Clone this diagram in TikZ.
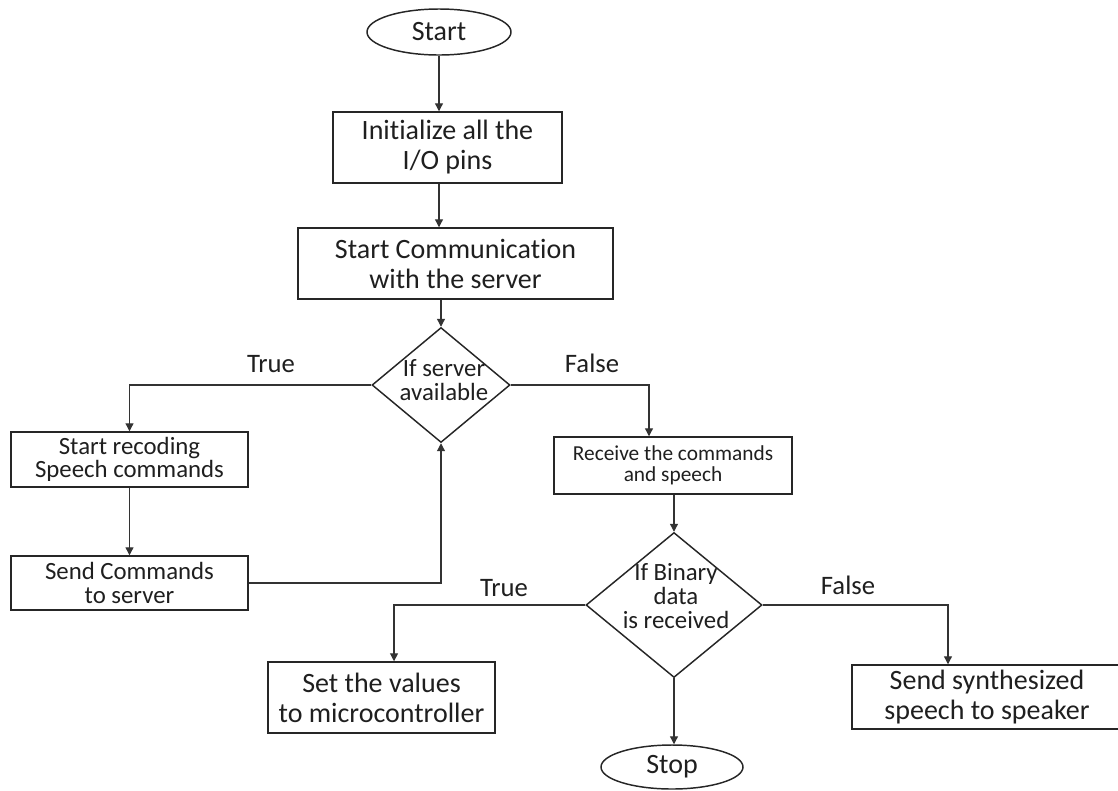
\documentclass[tikz,border=0pt]{standalone}
\usepackage{fontspec}
\setmainfont{Carlito}[Ligatures=NoCommon]
\usetikzlibrary{shapes.geometric,arrows.meta}
\begin{document}
\begin{tikzpicture}[x=0.75pt,y=-0.75pt,
  every node/.style={text=black!88},
  fbig/.style={font=\fontsize{21}{22.5}\selectfont},
  fmid/.style={font=\fontsize{18.6}{17.8}\selectfont},
  fsmall/.style={font=\fontsize{16}{15.8}\selectfont},
  flab/.style={font=\fontsize{20}{22}\selectfont},
  box/.style={draw=black!85, line width=1.1pt, rectangle, inner sep=0pt, align=center},
  term/.style={draw=black!85, line width=1.1pt, ellipse, inner sep=0pt, align=center, fbig},
  dia/.style={draw=black!85, line width=1.1pt, diamond, inner sep=0pt},
  arr/.style={draw=black!80, line width=0.9pt, -{Triangle[width=6pt,length=6pt]}}
]
\useasboundingbox (0,0) rectangle (1118,790);
\clip (0,0) rectangle (1118,790);

\node[term, minimum width=108pt, minimum height=34.5pt] (start) at (439,32) {Start};
\node[box, fbig, minimum width=171.75pt, minimum height=53.25pt] (init) at (447.5,147.5) {Initialize all the\\I/O pins};
\node[box, fbig, minimum width=236.25pt, minimum height=53.25pt] (comm) at (455.5,263.5) {Start Communication\\with the server};
\node[dia, minimum width=103.5pt, minimum height=86.25pt] (d1) at (441,385) {};
\node[fmid, align=center, inner sep=0pt] (d1t) at (444,380) {If server\\available};
\node[box, fmid, minimum width=177.75pt, minimum height=41.25pt] (rec) at (129.5,459.5) {Start recoding\\Speech commands};
\node[box, fmid, minimum width=177.75pt, minimum height=40.5pt] (send) at (129.5,583) {Send Commands\\to server};
\node[box, fsmall, minimum width=178.5pt, minimum height=42.75pt] (recv) at (673,465.5) {Receive the commands\\and speech};
\node[dia, minimum width=132pt, minimum height=108.75pt] (d2) at (674,605) {};
\node[fmid, align=center, inner sep=0pt] (d2t) at (676,596) {If Binary\\data\\is received};
\node[box, fbig, minimum width=170.25pt, minimum height=53.25pt] (setv) at (381.5,697.5) {Set the values\\to microcontroller};
\node[box, fbig, minimum width=202.5pt, minimum height=48pt] (synth) at (987,697) {Send synthesized\\speech to speaker};
\node[term, minimum width=106.5pt, minimum height=33pt] (stop) at (672,767) {Stop};

\node[flab] (t1) at (271,364) {True};
\node[flab] (f1) at (592,363) {False};
\node[flab] (t2) at (504,588) {True};
\node[flab] (f2) at (848,585) {False};

\draw[arr] (start.south) -- (start.south |- init.north);
\draw[arr] (init.south -| start.south) -- (start.south |- comm.north);
\draw[arr] (d1.north |- comm.south) -- (d1.north);
\draw[arr] (d1.west) -| (rec.north);
\draw[arr] (rec.south) -- (send.north);
\draw[arr] (send.east) -| (d1.south);
\draw[arr] (d1.east) -| ([xshift=-18pt]recv.north);
\draw[arr] (d2.north |- recv.south) -- (d2.north);
\draw[arr] (d2.west) -| ([xshift=9.4pt]setv.north);
\draw[arr] (d2.east) -| ([xshift=-29.25pt]synth.north);
\draw[arr] (d2.south) -- (d2.south |- stop.north);
\end{tikzpicture}
\end{document}
